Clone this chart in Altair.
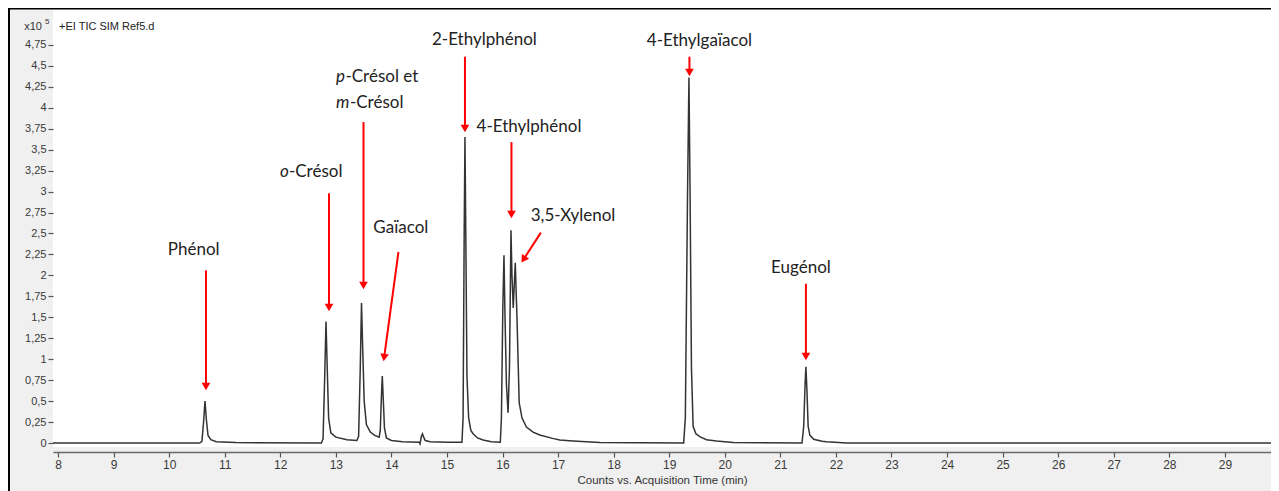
import altair as alt
import pandas as pd

# ---- chromatogram trace (time in min, counts in x10^5)
time_min = [7.91, 10.55, 10.59, 10.62, 10.645, 10.67, 10.70, 10.75, 10.85, 11.2,
            12.74, 12.77, 12.80, 12.823, 12.845, 12.87, 12.91, 13.0, 13.2, 13.38,
            13.41, 13.44, 13.462, 13.485, 13.51, 13.55, 13.62, 13.70, 13.78, 13.80,
            13.82, 13.836, 13.855, 13.875, 13.91, 14.0, 14.2, 14.50, 14.515, 14.54,
            14.56, 14.58, 14.61, 14.7, 15.0, 15.27, 15.29, 15.31, 15.324, 15.34,
            15.36, 15.39, 15.43, 15.47, 15.55, 15.65, 15.8, 15.96, 15.98, 16.005,
            16.026, 16.045, 16.07, 16.10, 16.125, 16.152, 16.17, 16.193, 16.229, 16.26,
            16.30, 16.35, 16.43, 16.55, 16.67, 16.9, 17.03, 17.27, 17.75, 18.5,
            19.26, 19.29, 19.33, 19.355, 19.375, 19.40, 19.43, 19.48, 19.55, 19.67,
            19.85, 20.15, 21.39, 21.42, 21.445, 21.46, 21.48, 21.50, 21.53, 21.6,
            21.75, 21.83, 22.2, 30.0]
counts_e5 = [0.0, 0.0, 0.02, 0.25, 0.50, 0.28, 0.09, 0.04, 0.015, 0.005,
             0.0, 0.05, 0.8, 1.45, 0.9, 0.3, 0.12, 0.07, 0.04, 0.03,
             0.08, 0.9, 1.67, 1.1, 0.5, 0.22, 0.13, 0.09, 0.07, 0.15,
             0.55, 0.80, 0.50, 0.18, 0.06, 0.03, 0.015, 0.01, -0.01, 0.08,
             0.11, 0.07, 0.03, 0.015, 0.01, 0.01, 0.3, 2.5, 3.65, 2.4,
             0.8, 0.3, 0.15, 0.11, 0.06, 0.035, 0.015, 0.01, 0.3, 1.6,
             2.24, 1.5, 0.7, 0.36, 0.9, 2.54, 2.0, 1.61, 2.15, 1.5,
             0.48, 0.30, 0.19, 0.13, 0.095, 0.055, 0.036, 0.025, 0.006, 0.003,
             0.0, 0.3, 3.0, 4.36, 3.0, 0.9, 0.2, 0.11, 0.075, 0.04,
             0.024, 0.005, 0.0, 0.2, 0.7, 0.91, 0.6, 0.2, 0.095, 0.045,
             0.02, 0.015, 0.0, 0.0]

# ---- plain compound labels
label_text = ["Phénol", "Gaïacol", "2-Ethylphénol", "4-Ethylphénol",
              "3,5-Xylenol", "4-Ethylgaïacol", "Eugénol"]
label_t = [10.442, 14.17, 15.674, 16.476, 17.268, 19.544, 21.37]
label_v = [2.30, 2.566, 4.81, 3.77, 2.71, 4.80, 2.09]

# ---- labels with an italic prefix
mixed_prefix = ["o", "p", "m"]
mixed_rest = ["-Crésol", "-Crésol et", "-Crésol"]
mixed_t = [11.995, 13.003, 13.003]
mixed_v = [3.234, 4.368, 4.057]

# ---- red arrows: start -> head
arrow_t0 = [10.663, 12.877, 13.498, 14.127, 15.324, 16.161, 16.69, 19.364, 21.46]
arrow_v0 = [2.06, 2.98, 3.83, 2.28, 4.61, 3.59, 2.51, 4.61, 1.90]
arrow_t1 = [10.663, 12.877, 13.498, 13.869, 15.324, 16.161, 16.377, 19.364, 21.46]
arrow_v1 = [0.674, 1.617, 1.879, 1.02, 3.753, 2.727, 2.19, 4.421, 1.032]
arrow_angle = [0, 0, 0, 7.8, 0, 0, 33.7, 0, 0]

y_ticks = [i * 0.25 for i in range(20)]
x_ticks = list(range(8, 30))

trace = pd.DataFrame({"t": time_min, "v": counts_e5})
labels = pd.DataFrame({"text": label_text, "t": label_t, "v": label_v})
mixed = pd.DataFrame({"pre": mixed_prefix, "rest": mixed_rest, "t": mixed_t, "v": mixed_v})
arrows = pd.DataFrame({"t0": arrow_t0, "v0": arrow_v0, "t1": arrow_t1,
                       "v1": arrow_v1, "ang": arrow_angle})

xs = alt.Scale(domain=[7.91, 29.83], nice=False, zero=False)
ys = alt.Scale(domain=[-0.0477, 5.167], nice=False, zero=False)

AX_FONT = "Liberation Sans"
TXT_FONT = "Lato"
TXT_SIZE = 17

x_axis = alt.Axis(
    values=x_ticks, format="d", offset=5, grid=False,
    domainColor="#6a6a6a", domainWidth=1.5, tickColor="#555555", tickSize=5,
    tickWidth=1.2, labelFont=AX_FONT, labelFontSize=12, labelColor="#3a3a3a",
    labelPadding=2, labelFlush=False,
    title="Counts vs. Acquisition Time (min)", titleFont=AX_FONT,
    titleFontSize=11.5, titleFontWeight="normal", titleColor="#333333",
    titlePadding=4)
y_axis = alt.Axis(
    values=y_ticks, labelExpr="replace(format(datum.value, '~g'), '.', ',')",
    domain=False, grid=False, tickColor="#555555", tickSize=5, tickWidth=1.2,
    labelFont=AX_FONT, labelFontSize=11, labelColor="#3a3a3a", labelPadding=2,
    title=None)


def X(field):
    return alt.X(field, scale=xs, axis=x_axis)


def Y(field):
    return alt.Y(field, scale=ys, axis=y_axis)


line = alt.Chart(trace).mark_line(color="#333333", strokeWidth=1.5, clip=True).encode(
    x=X("t:Q"), y=Y("v:Q"), order="t:Q",
)

arrow_lines = alt.Chart(arrows).mark_rule(color="#ff0000", strokeWidth=2).encode(
    x=X("t0:Q"), x2="t1:Q", y=Y("v0:Q"), y2="v1:Q",
)
arrow_heads = alt.Chart(arrows).mark_point(
    shape="triangle-down", filled=True, color="#ff0000", size=75, opacity=1
).encode(
    x=X("t1:Q"), y=Y("v1:Q"), angle=alt.Angle("ang:Q", scale=None),
)

text_plain = alt.Chart(labels).mark_text(
    font=TXT_FONT, fontSize=TXT_SIZE, color="#222222", align="center", baseline="middle"
).encode(x=X("t:Q"), y=Y("v:Q"), text="text:N")

text_italic = alt.Chart(mixed).mark_text(
    font=TXT_FONT, fontSize=TXT_SIZE, fontStyle="italic", color="#222222",
    align="left", baseline="middle"
).encode(x=X("t:Q"), y=Y("v:Q"), text="pre:N")

rest_layers = []
for pre, dx in (("o", 9), ("p", 9.5), ("m", 14)):
    rest_layers.append(
        alt.Chart(mixed).transform_filter(alt.datum.pre == pre).mark_text(
            font=TXT_FONT, fontSize=TXT_SIZE, color="#222222", align="left",
            baseline="middle", dx=dx
        ).encode(x=X("t:Q"), y=Y("v:Q"), text="rest:N")
    )

# header texts in the gray margin / top of plot
one = alt.Chart(trace).transform_filter("datum.t == 7.91")
hdr_x10 = one.mark_text(
    font=AX_FONT, fontSize=11, color="#333333", align="right", baseline="middle", text="x10"
).encode(x=alt.value(-11), y=alt.value(17))
hdr_exp = one.mark_text(
    font=AX_FONT, fontSize=8, color="#333333", align="left", baseline="middle", text="5"
).encode(x=alt.value(-8), y=alt.value(12))
hdr_name = one.mark_text(
    font=AX_FONT, fontSize=11, color="#222222", align="left", baseline="middle",
    text="+EI TIC SIM Ref5.d"
).encode(x=alt.value(6), y=alt.value(17))

frame_left = one.mark_rule(color="#000000", strokeWidth=2).encode(
    x=alt.value(-44), y=alt.value(-3), y2=alt.value(490))
frame_top = one.mark_rule(color="#000000", strokeWidth=2).encode(
    x=alt.value(-45), x2=alt.value(1230), y=alt.value(-1.5))

chart = alt.layer(
    line, arrow_lines, arrow_heads, text_plain, text_italic, *rest_layers,
    hdr_x10, hdr_exp, hdr_name, frame_left, frame_top
).properties(
    width=1218, height=437,
    padding={"left": 45, "top": 2, "right": 0, "bottom": 44},
    autosize=alt.AutoSizeParams(type="none"),
    background="#f0f0f0",
).configure_view(fill="#ffffff", stroke=None)

chart.save("out.html", embed_options={"renderer": "svg", "actions": False})
